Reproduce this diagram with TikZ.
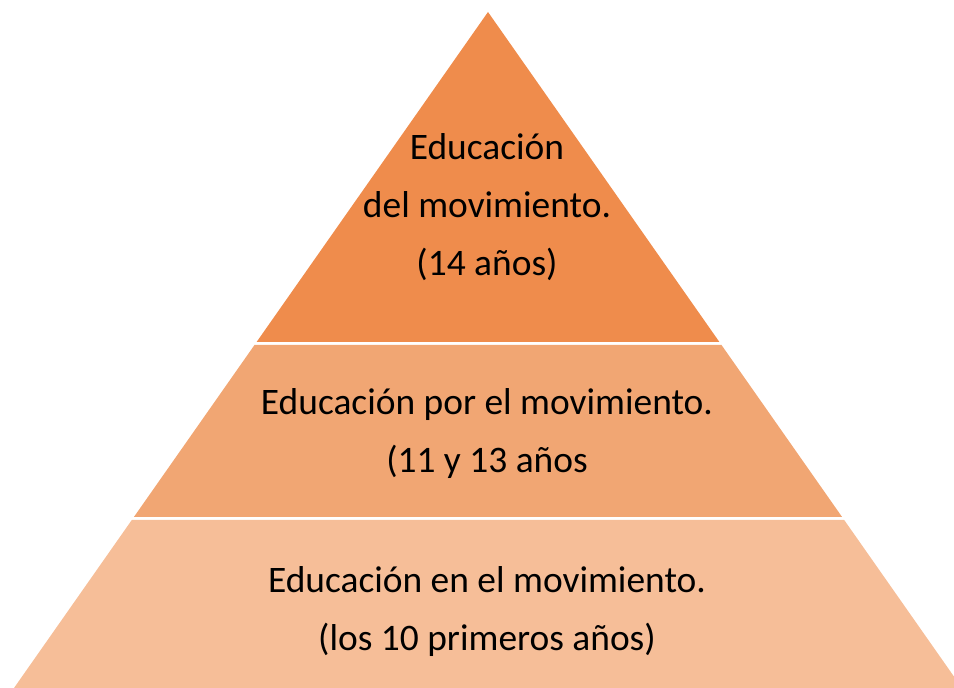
\documentclass[tikz,border=0pt]{standalone}
\usepackage{fontspec}
\setmainfont{Carlito}
\usepackage{xcolor}
\usepackage{tikz}
\definecolor{TopOrange}{RGB}{239,140,76}
\definecolor{MidOrange}{RGB}{241,166,115}
\definecolor{BaseOrange}{RGB}{246,190,152}

\begin{document}
\begin{tikzpicture}[x=0.02cm,y=-0.02cm,
    layer/.style={draw=none},
    lvltext/.style={align=center,text=black,inner sep=0pt,
                    font=\fontsize{21.3}{33}\selectfont}]

    \useasboundingbox (0,0) rectangle (954,688);
    \clip (0,0) rectangle (954,688);

    % three bands of the pyramid
    \fill[layer,TopOrange] (488,12) -- (719.4,342) -- (256.6,342) -- cycle;
    \fill[layer,MidOrange] (254.5,345) -- (721.5,345) -- (842.1,517)
      -- (133.9,517) -- cycle;
    \fill[layer,BaseOrange] (131.8,520) -- (844.2,520) -- (962,688)
      -- (14,688) -- cycle;

    \node[lvltext] (top) at (487,207)
      {Educación\\del movimiento.\\(14 años)};
    \node[lvltext] (mid) at (487,434)
      {Educación por el movimiento.\\(11 y 13 años};
    \node[lvltext] (base) at (487,612)
      {Educación en el movimiento.\\(los 10 primeros años)};
  \end{tikzpicture}
\end{document}
